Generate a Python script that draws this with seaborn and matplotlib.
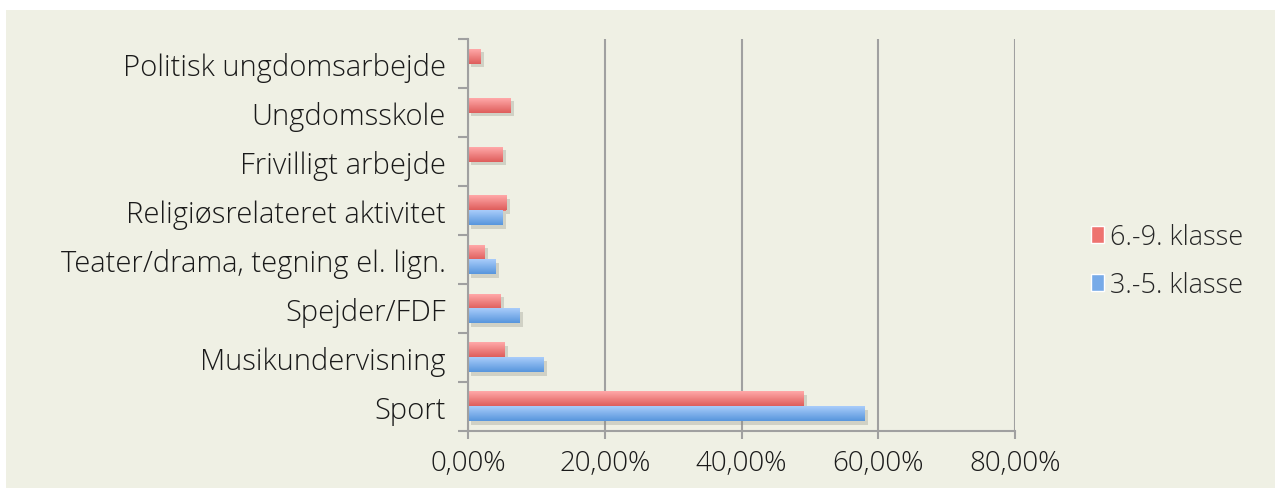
import numpy as np
import pandas as pd
import matplotlib
matplotlib.use("Agg")
import matplotlib.pyplot as plt
from matplotlib.patches import Rectangle
from matplotlib.colors import LinearSegmentedColormap, to_hex
from matplotlib.ticker import FixedLocator, FuncFormatter
import matplotlib.patheffects as pe
import seaborn as sns

categories = ["Politisk ungdomsarbejde", "Ungdomsskole", "Frivilligt arbejde",
              "Religiøsrelateret aktivitet", "Teater/drama, tegning el. lign.",
              "Spejder/FDF", "Musikundervisning", "Sport"]
series_names = ["6.-9. klasse", "3.-5. klasse"]
values_6_9 = [1.8, 6.2, 5.1, 5.6, 2.4, 4.8, 5.3, 49.1]
values_3_5 = [np.nan, np.nan, np.nan, 5.1, 4.0, 7.6, 11.0, 58.0]
x_ticks = [0, 20, 40, 60, 80]

df = pd.DataFrame({
    "kategori": categories * 2,
    "klasse": [series_names[0]] * len(categories) + [series_names[1]] * len(categories),
    "andel": values_6_9 + values_3_5,
})

sns.set_theme(style="white")
plt.rcParams["font.family"] = ["Open Sans", "Liberation Sans", "DejaVu Sans"]

BG = "#EFF0E4"
GRID = "#A0A0A0"
RED = "#ee7370"
BLUE = "#77aae8"
grad = {RED: ("#FFA8A8", "#DF5E5C"), BLUE: ("#A8CCFA", "#5896DD")}

fig = plt.figure(figsize=(12.75, 4.89), dpi=100)
fig.patch.set_facecolor("white")
fig.patches.append(Rectangle((6 / 1275, 0), 1, 1 - 11 / 489, transform=fig.transFigure,
                             facecolor=BG, edgecolor="none", zorder=-10))
ax = fig.add_axes([468 / 1275, 1 - 432 / 489, (1015 - 468) / 1275, (432 - 40) / 489])
ax.set_zorder(5)
ax.patch.set_alpha(0)

sns.barplot(data=df, y="kategori", x="andel", hue="klasse", order=categories,
            hue_order=series_names, palette=[RED, BLUE], orient="h",
            width=0.6, gap=0, ax=ax, saturation=1, errorbar=None, legend=True)

handles, labels = ax.get_legend_handles_labels()
ax.legend_.remove()

# gradient fill + soft shadow on each bar
for p in list(ax.patches):
    w = p.get_width()
    if not np.isfinite(w) or w <= 0:
        continue
    fc = to_hex(p.get_facecolor()).lower()
    top, bot = grad.get(fc, (fc, fc))
    cmap = LinearSegmentedColormap.from_list("g", [top, bot])
    x0, y0 = p.get_x(), p.get_y()
    h = p.get_height()
    p.set_edgecolor("none")
    p.set_path_effects([pe.SimplePatchShadow(offset=(2.5, -2.5), shadow_rgbFace="#8a8a7e",
                                             alpha=0.3), pe.Normal()])
    ax.imshow(np.linspace(0, 1, 32).reshape(-1, 1), cmap=cmap, aspect="auto",
              extent=(x0, x0 + w, y0 + h, y0), origin="upper",
              interpolation="bilinear", zorder=p.get_zorder() + 0.1)

ax.set_xlim(0, 80)
ax.set_ylim(len(categories) - 0.5, -0.5)
ax.set_aspect("auto")
ax.xaxis.set_major_locator(FixedLocator(x_ticks))
ax.xaxis.set_major_formatter(FuncFormatter(lambda v, p: f"{v:.2f}%".replace(".", ",")))
ax.grid(axis="x", color=GRID, linewidth=1.5)
ax.set_axisbelow(True)
ax.set_xlabel("")
ax.set_ylabel("")

for s in ["top", "right"]:
    ax.spines[s].set_visible(False)
for s in ["left", "bottom"]:
    ax.spines[s].set_color(GRID)
    ax.spines[s].set_linewidth(1.5)

ax.yaxis.set_minor_locator(FixedLocator(np.arange(-0.5, len(categories), 1.0)))
ax.tick_params(axis="y", which="major", length=0, pad=16, labelsize=21, labelcolor="#1a1a1a")
ax.tick_params(axis="y", which="minor", left=True, length=7, width=1.5, color=GRID)
ax.tick_params(axis="x", which="major", bottom=True, length=6, width=1.5, color=GRID,
               pad=7, labelsize=20, labelcolor="#1a1a1a")
for t in ax.get_yticklabels() + ax.get_xticklabels():
    t.set_fontweight("light")

leg = fig.legend(handles, labels, loc="center left", bbox_to_anchor=(1080 / 1275, 1 - 262 / 489),
                 frameon=False, fontsize=19.5, handlelength=0.5, handleheight=0.6,
                 handletextpad=0.2, labelspacing=0.75, borderaxespad=0)
for t in leg.get_texts():
    t.set_fontweight("light")

fig.savefig("out.png", dpi=100, facecolor=fig.get_facecolor())
